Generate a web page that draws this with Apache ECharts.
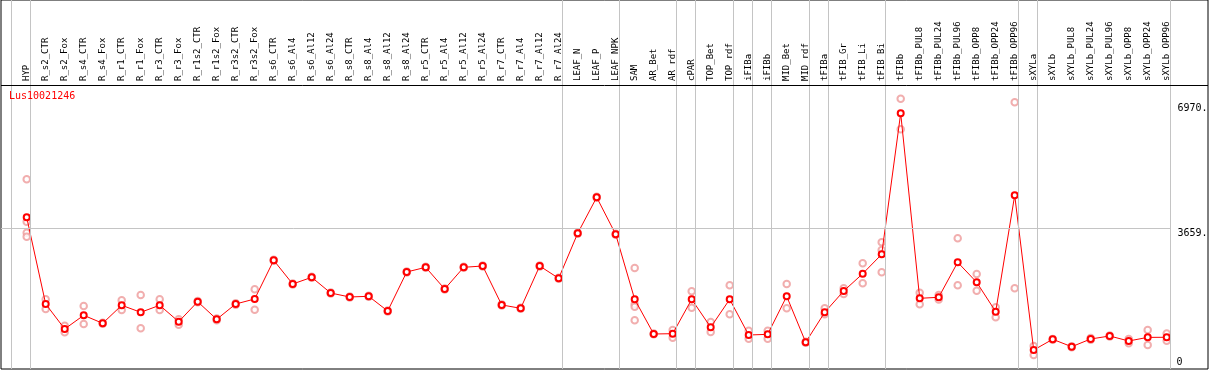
<!DOCTYPE html>
<html><head><meta charset="utf-8">
<script src="https://cdn.jsdelivr.net/npm/echarts@6/dist/echarts.min.js"></script>
<style>html,body{margin:0;padding:0;background:#fff}#c{width:1209px;height:370px}</style>
</head><body><div id="c"></div>
<script>
const gene = 'Lus10021246';
const categories = ['HYP','R_s2_CTR','R_s2_Fox','R_s4_CTR','R_s4_Fox','R_r1_CTR','R_r1_Fox','R_r3_CTR','R_r3_Fox','R_r1s2_CTR','R_r1s2_Fox','R_r3s2_CTR','R_r3s2_Fox','R_s6_CTR','R_s6_Al4','R_s6_Al12','R_s6_Al24','R_s8_CTR','R_s8_Al4','R_s8_Al12','R_s8_Al24','R_r5_CTR','R_r5_Al4','R_r5_Al12','R_r5_Al24','R_r7_CTR','R_r7_Al4','R_r7_Al12','R_r7_Al24','LEAF_N','LEAF_P','LEAF_NPK','SAM','AR_Bet','AR_rdf','cPAR','TOP_Bet','TOP_rdf','iFIBa','iFIBb','MID_Bet','MID_rdf','tFIBa','tFIB_Gr','tFIB_Li','tFIB_Bi','tFIBb','tFIBb_PUL8','tFIBb_PUL24','tFIBb_PUL96','tFIBb_OPP8','tFIBb_OPP24','tFIBb_OPP96','sXYLa','sXYLb','sXYLb_PUL8','sXYLb_PUL24','sXYLb_PUL96','sXYLb_OPP8','sXYLb_OPP24','sXYLb_OPP96'];
const means = [3950,1661,1001,1363,1151,1627,1442,1627,1194,1722,1257,1661,1793,2815,2189,2366,1951,1846,1864,1476,2506,2630,2057,2630,2664,1637,1547,2664,2339,3528,4478,3501,1785,869,877,1785,1046,1785,842,860,1864,650,1440,2004,2461,2973,6697,1811,1838,2762,2234,1458,4531,446,729,533,737,816,684,780,782];
const replicates = [
 [4954,3834,3544,3438],[1785,1529],[1088,913],[1608,1133],[1165,1137],[1759,1503],[1899,1019],[1785,1503],[1257,1114],[1740,1705],
 [1280,1235],[1680,1640],[2050,1510],[2830,2800],[2200,2178],[2380,2352],[1965,1937],[1860,1832],[1878,1850],[1490,1462],
 [2520,2492],[2644,2616],[2071,2043],[2644,2616],[2678,2650],[1651,1623],[1561,1533],[2678,2650],[2353,2325],[3542,3514],
 [4492,4464],[3515,3487],[2612,1653,1590,1231],[880,860],[974,771],[1996,1563],[1186,922],[2155,1389],[956,745],[956,745],
 [2189,1547],[665,635],[1547,1389],[2075,1925],[2736,2208],[3290,3087,2498],[7082,6274],[1959,1653],[1900,1780],[3396,2155],
 [2453,2012],[1574,1310],[6987,2075],[552,314],[740,720],[545,520],[760,715],[830,800],[737,623],[974,578],[880,690]
];
const groupEnds = [-1,0,28,31,34,35,37,38,39,41,42,45,52,53,60];
const yLabels = [0,3659,6970];
const gridValue = 3659;

// layout (pixels)
const X0 = 26.7, STEP = 19, PLOT_L = 1, PLOT_R = 1208;
const Y0 = 366.9, PXU = 0.03787, BOT = 369, HEAD = 85;
const xMin = (PLOT_L - X0) / STEP, xMax = (PLOT_R - X0) / STEP;
const xLast = (1170.3 - X0) / STEP, xLab = (1177.5 - X0) / STEP;
const yMin = -(BOT - Y0) / PXU, yMax = Y0 / PXU, yHead = (Y0 - HEAD) / PXU;
const mono = 'DejaVu Sans Mono';

const lineData = means.map((v, i) => [i, v]);
const repData = [];
replicates.forEach((r, i) => r.forEach(v => repData.push([i, v])));

const sepLines = groupEnds.map(i => ({xAxis: i + 0.19}));
const gridLine = [[{coord: [xMin, gridValue]}, {coord: [xLast, gridValue]}]];
const labelLines = yLabels.map(v => [
  {coord: [xLab, v], lineStyle: {color: 'rgba(0,0,0,0)', width: 0},
   label: {show: true, position: v === 0 ? 'insideStartTop' : 'insideStartBottom', distance: v === 0 ? -1 : 0,
     formatter: v === 0 ? '0' : v + '.', color: '#000', fontFamily: mono, fontSize: 10}},
  {coord: [xMax, v]}
]);

const chart = echarts.init(document.getElementById('c'), null, {renderer: 'canvas'});
chart.setOption({
  animation: false,
  backgroundColor: '#fff',
  title: {text: gene, left: 9, top: 91, padding: 0,
    textStyle: {color: '#ff0000', fontSize: 10, fontWeight: 'normal', fontFamily: mono}},
  grid: [
    {left: PLOT_L, right: 1209 - PLOT_R, top: 0, bottom: 370 - BOT, show: true, borderColor: '#000', borderWidth: 1, backgroundColor: 'transparent'},
    {left: X0, right: 1209 - (X0 + STEP * (categories.length - 1)), top: HEAD - 1, height: 10}
  ],
  xAxis: [
    {type: 'value', gridIndex: 0, min: xMin, max: xMax, show: false},
    {type: 'category', gridIndex: 1, position: 'top', data: categories, boundaryGap: false,
     axisLine: {show: false}, axisTick: {show: false}, splitLine: {show: false},
     axisLabel: {rotate: 90, interval: 0, margin: 3, fontSize: 9, fontFamily: mono, color: '#000'}}
  ],
  yAxis: [
    {type: 'value', gridIndex: 0, min: yMin, max: yMax, show: false},
    {type: 'value', gridIndex: 1, show: false}
  ],
  series: [
    {type: 'line', xAxisIndex: 0, yAxisIndex: 0, data: [], silent: true,
     markLine: {silent: true, symbol: 'none', animation: false,
       label: {show: false}, lineStyle: {color: '#c4c4c4', width: 1, type: 'solid'},
       data: sepLines.concat([{yAxis: yHead, lineStyle: {color: '#000', width: 1, type: 'solid'}}]).concat(gridLine).concat(labelLines)}},
    {type: 'scatter', xAxisIndex: 0, yAxisIndex: 0, data: repData, symbol: 'emptyCircle', symbolSize: 6.5, z: 3,
     itemStyle: {color: '#ee9a9a', borderColor: '#ee9a9a', borderWidth: 1}},
    {type: 'line', xAxisIndex: 0, yAxisIndex: 0, data: lineData, symbol: 'emptyCircle', symbolSize: 6, z: 4,
     lineStyle: {color: '#ff0000', width: 1}, itemStyle: {color: '#ff0000', borderColor: '#ff0000', borderWidth: 1.4}},
    {type: 'line', xAxisIndex: 1, yAxisIndex: 1, data: []}
  ]
});
</script></body></html>
